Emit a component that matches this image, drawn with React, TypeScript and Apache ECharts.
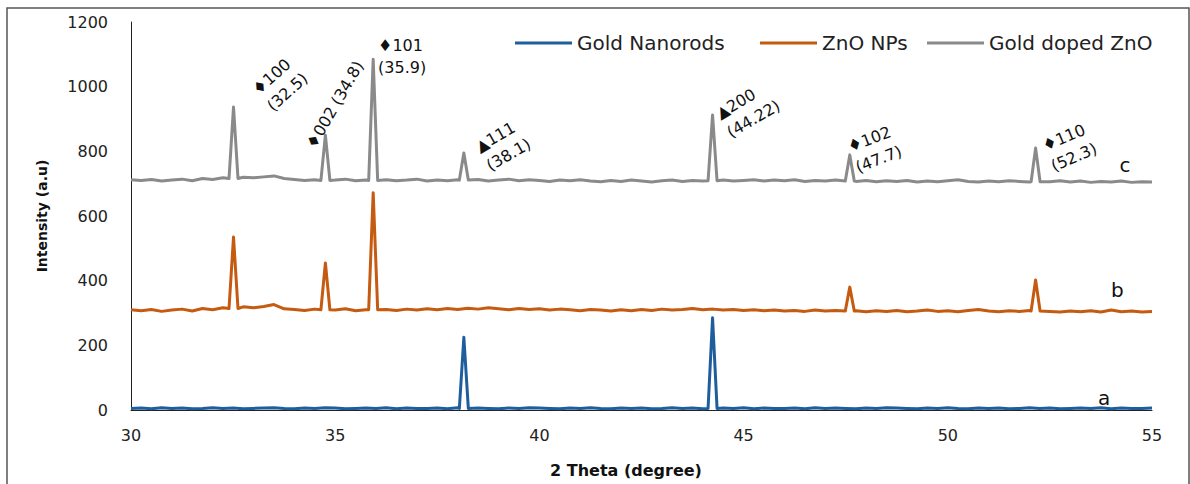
import React, { useEffect, useRef } from "react";
import * as echarts from "echarts";

// x grid of the baseline readings (degrees 2θ)
const X_START = 30;
const X_STEP = 0.25;

// Baseline readings (a.u.), one every 0.25° from 30 to 55
const goldBase = [
  5, 6, 4, 7, 5, 6, 4, 5, 7, 5,
  6, 4, 5, 6, 7, 5, 4, 6, 5, 7,
  6, 4, 5, 6, 5, 7, 4, 6, 5, 5,
  6, 4, 7, 5, 6, 5, 4, 6, 5, 7,
  6, 5, 4, 6, 5, 7, 5, 4, 6, 5,
  6, 4, 5, 7, 5, 6, 4, 5, 6, 5,
  7, 4, 6, 5, 5, 6, 4, 7, 5, 6,
  5, 4, 6, 5, 7, 6, 5, 4, 6, 5,
  7, 5, 4, 6, 5, 6, 4, 5, 7, 5,
  6, 4, 5, 6, 5, 7, 4, 6, 5, 5,
  6,
];
const znoBase = [
  310, 307, 311, 305, 309, 312, 306, 314, 310, 316,
  314, 319, 316, 320, 326, 313, 311, 308, 312, 309,
  309, 313, 307, 310, 310, 311, 308, 312, 309, 313,
  310, 314, 311, 315, 312, 316, 313, 310, 314, 311,
  313, 309, 312, 310, 307, 311, 309, 306, 310, 307,
  311, 308, 312, 309, 311, 314, 310, 312, 309, 311,
  308, 310, 307, 309, 306, 308, 305, 309, 306, 308,
  305, 307, 304, 307, 305, 308, 304, 306, 309, 305,
  307, 304, 308, 311, 306, 304, 307, 305, 308, 306,
  305, 303, 306, 304, 307, 303, 309, 304, 306, 303,
  305,
];
const dopedBase = [
  712, 710, 713, 708, 711, 714, 709, 716, 713, 718,
  715, 720, 718, 721, 724, 716, 713, 710, 712, 709,
  711, 714, 709, 711, 710, 712, 709, 711, 714, 708,
  711, 709, 712, 710, 713, 708, 711, 714, 709, 712,
  710, 707, 711, 709, 712, 708, 706, 710, 707, 711,
  708, 705, 709, 711, 707, 710, 708, 709, 711, 708,
  710, 712, 708, 711, 709, 712, 707, 710, 708, 711,
  709, 707, 710, 706, 709, 707, 710, 705, 708, 706,
  709, 712, 707, 705, 708, 706, 709, 707, 705, 708,
  706, 709, 705, 708, 704, 707, 705, 708, 704, 706,
  705,
];

// Peaks: [position, top, foot level]
const goldPeaks = [
  [38.15, 225, 5],
  [44.24, 285, 5],
];
const znoPeaks = [
  [32.51, 535, 314],
  [34.76, 455, 310],
  [35.93, 672, 310],
  [47.6, 380, 306],
  [52.15, 402, 306],
];
const dopedPeaks = [
  [32.51, 937, 716],
  [34.76, 850, 710],
  [35.93, 1085, 710],
  [38.15, 795, 711],
  [44.24, 912, 709],
  [47.6, 789, 708],
  [52.15, 810, 706],
];

const seriesNames = ["Gold Nanorods", "ZnO NPs", "Gold doped ZnO"];
const seriesColors = ["#1f5e9c", "#c55a11", "#8a8a8a"];

// Peak annotations: text, left-middle anchor (data coords), rotation (deg)
const annotations = [
  { text: "\u2666100\n(32.5)", x: 33.21, y: 959, rotate: 42 },
  { text: "\u2666002 (34.8)", x: 34.39, y: 813, rotate: 60 },
  { text: "\u2666101\n(35.9)", x: 36.05, y: 1092, rotate: 0 },
  { text: "\u25B2111\n(38.1)", x: 38.6, y: 782, rotate: 30 },
  { text: "\u25B2200\n(44.22)", x: 44.49, y: 885, rotate: 30 },
  { text: "\u2666102\n(47.7)", x: 47.66, y: 781, rotate: 21 },
  { text: "\u2666110\n(52.3)", x: 52.44, y: 784, rotate: 23 },
];
const curveLabels = [
  { text: "c", x: 54.34, y: 758 },
  { text: "b", x: 54.15, y: 371 },
  { text: "a", x: 53.83, y: 37 },
];

function buildSeries(base: number[], peaks: number[][]) {
  const pts: number[][] = [];
  base.forEach((v, i) => {
    const x = X_START + i * X_STEP;
    if (peaks.every((p) => Math.abs(p[0] - x) > 0.14)) pts.push([x, v]);
  });
  peaks.forEach(([x, top, foot]) => {
    pts.push([x - 0.11, foot], [x, top], [x + 0.11, foot]);
  });
  pts.sort((a, b) => a[0] - b[0]);
  return pts;
}

const FONT = "DejaVu Sans";

export default function App() {
  const ref = useRef<HTMLDivElement>(null);
  useEffect(() => {
    if (!ref.current) return;
    const chart = echarts.init(ref.current, undefined, { renderer: "svg" });
    const datasets = [
      buildSeries(goldBase, goldPeaks),
      buildSeries(znoBase, znoPeaks),
      buildSeries(dopedBase, dopedPeaks),
    ];
    const legendLefts = [510, 755, 922];
    chart.setOption({
      animation: false,
      backgroundColor: "#ffffff",
      grid: { left: 131, right: 38, top: 22, bottom: 74, containLabel: false },
      legend: seriesNames.map((n, i) => ({
        data: [n],
        left: legendLefts[i],
        top: 28,
        icon: "rect",
        itemWidth: 57,
        itemHeight: 3,
        textStyle: { fontSize: 20, fontFamily: FONT, color: "#222" },
      })),
      xAxis: {
        type: "value",
        min: 30,
        max: 55,
        interval: 5,
        name: "2 Theta (degree)",
        nameLocation: "middle",
        nameGap: 52,
        nameTextStyle: {
          fontFamily: FONT,
          fontWeight: "bold",
          fontSize: 16,
          color: "#111",
          padding: [0, 31, 0, 0],
        },
        axisLine: { show: true, lineStyle: { color: "#222", width: 1 } },
        axisTick: { show: false },
        splitLine: { show: false },
        axisLabel: { fontFamily: FONT, fontSize: 16, color: "#222", margin: 17 },
      },
      yAxis: {
        type: "value",
        min: 0,
        max: 1200,
        interval: 200,
        name: "Intensity (a.u)",
        nameLocation: "middle",
        nameGap: 82,
        nameTextStyle: {
          fontFamily: FONT,
          fontWeight: "bold",
          fontSize: 14,
          color: "#111",
        },
        axisLine: { show: true, lineStyle: { color: "#222", width: 1 } },
        axisTick: { show: false },
        splitLine: { show: false },
        axisLabel: {
          fontFamily: FONT,
          fontSize: 16,
          color: "#222",
          margin: 23,
          formatter: (v: number) => String(v),
        },
      },
      series: seriesNames.map((n, i) => ({
        name: n,
        type: "line",
        data: datasets[i],
        showSymbol: false,
        symbol: "none",
        lineStyle: { color: seriesColors[i], width: 3, join: "round" },
        itemStyle: { color: seriesColors[i] },
        z: 3 - i,
      })),
    });

    const elements: any[] = [
      {
        type: "rect",
        silent: true,
        shape: { x: 7, y: 8, width: 1182, height: 500 },
        style: { fill: "none", stroke: "#555", lineWidth: 1.5 },
      },
    ];
    annotations.forEach((a) => {
      const [px, py] = chart.convertToPixel({ gridIndex: 0 }, [a.x, a.y]);
      elements.push({
        type: "text",
        x: px,
        y: py,
        rotation: (a.rotate * Math.PI) / 180,
        silent: true,
        z: 10,
        style: {
          text: a.text,
          fill: "#111",
          fontSize: 16,
          fontFamily: FONT,
          lineHeight: 22,
          align: "left",
          verticalAlign: "middle",
        },
      });
    });
    curveLabels.forEach((c) => {
      const [px, py] = chart.convertToPixel({ gridIndex: 0 }, [c.x, c.y]);
      elements.push({
        type: "text",
        x: px,
        y: py,
        silent: true,
        z: 10,
        style: {
          text: c.text,
          fill: "#111",
          fontSize: 20,
          fontFamily: FONT,
          align: "center",
          verticalAlign: "middle",
        },
      });
    });
    chart.setOption({ graphic: { elements } });

    return () => chart.dispose();
  }, []);
  return (
    <div
      ref={ref}
      style={{ position: "absolute", left: 0, top: 0, width: 1190, height: 484 }}
    />
  );
}
